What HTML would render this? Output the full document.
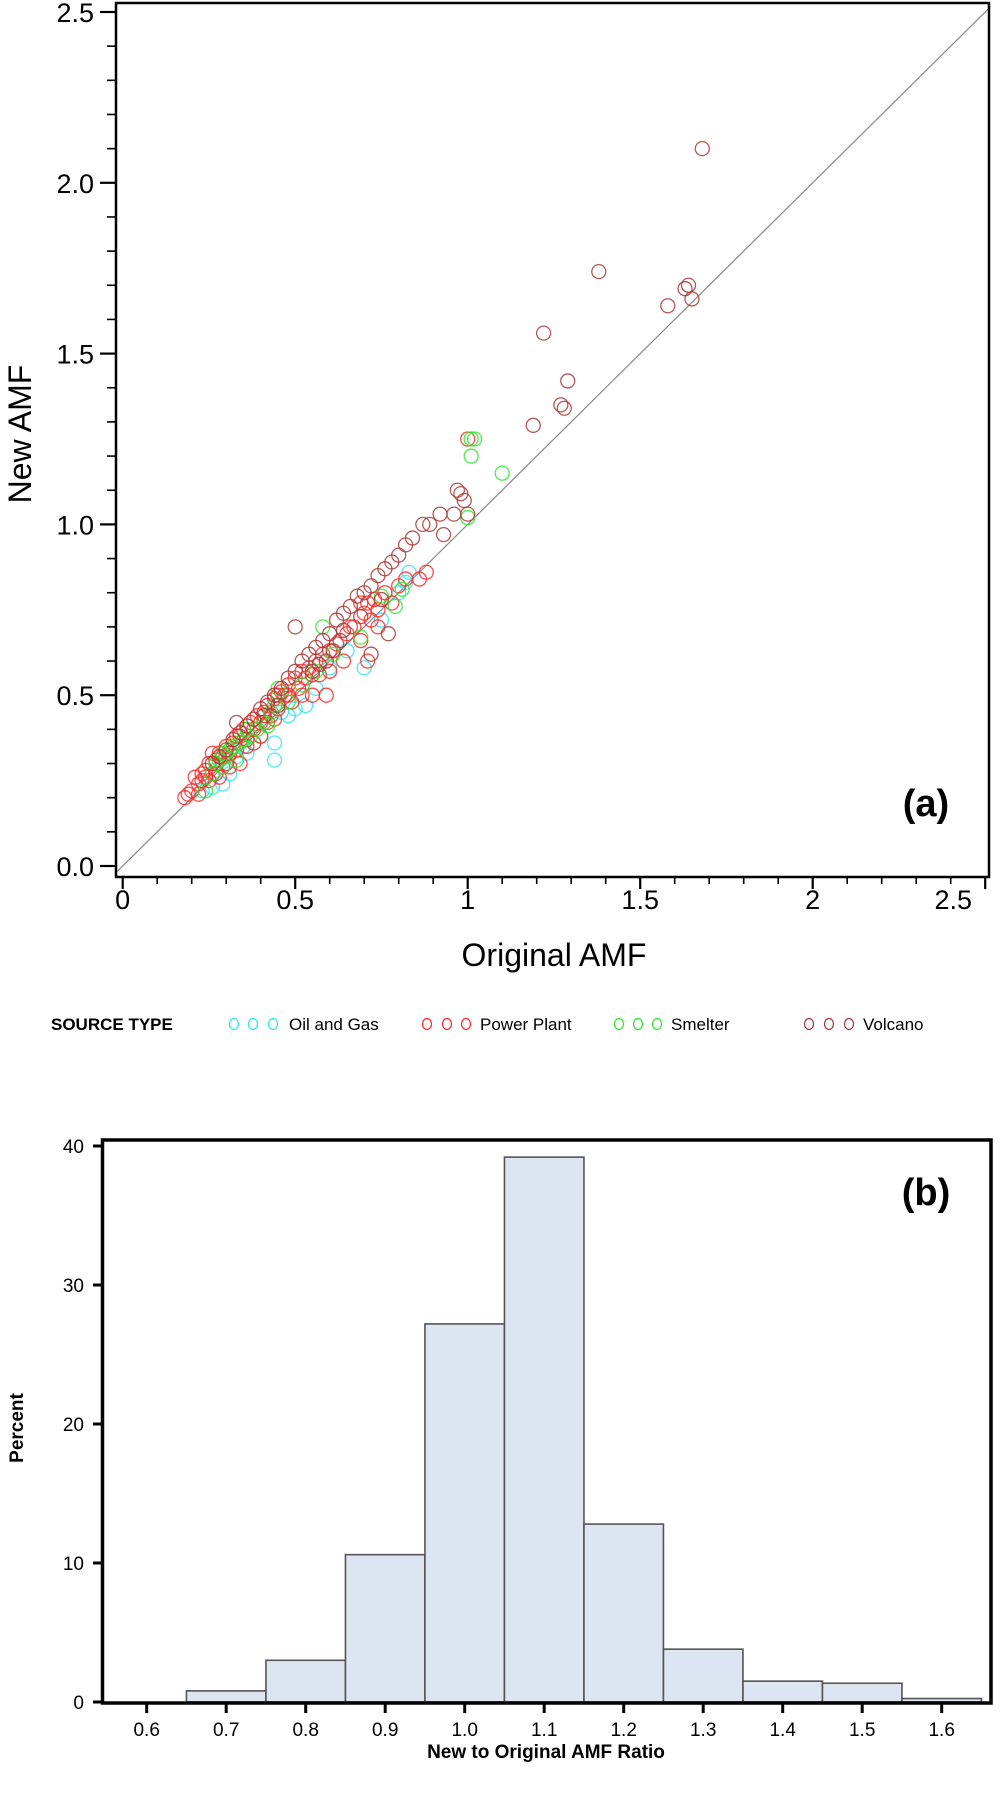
<!DOCTYPE html>
<html><head><meta charset="utf-8"><style>
html,body{margin:0;padding:0;background:#fff;}
svg{display:block;font-family:"Liberation Sans",Arial,sans-serif;}
</style></head><body>
<svg id="svg" width="1004" height="1819" viewBox="0 0 1004 1819">
<defs><clipPath id="clipA"><rect x="116" y="3" width="873" height="874"/></clipPath></defs>
<g id="topPanel"></g>
<g id="legend"></g>
<g id="bot"></g>
</svg>
<script>
// ---- Scatter data (Original AMF, New AMF) ----
const volcanoX=[1.68,1.38,1.58,1.63,1.64,1.65,1.22,1.29,1.27,1.28,1.19,0.97,0.98,0.99,1.00,0.96,0.92,0.93,0.89,0.87,0.84,0.82,0.80,0.78,0.76,0.74,0.72,0.70,0.68,0.66,0.64,0.62,0.60,0.58,0.56,0.54,0.52,0.50,0.48,0.46,0.44,0.42,0.40,0.38,0.36,0.34,0.32,0.30,0.28,0.26,0.50,0.77,0.72,0.59,0.63,0.69,0.75,0.57,0.45,0.41,0.33,0.55,0.64,0.61];
const volcanoY=[2.10,1.74,1.64,1.69,1.70,1.66,1.56,1.42,1.35,1.34,1.29,1.10,1.09,1.07,1.03,1.03,1.03,0.97,1.00,1.00,0.96,0.94,0.91,0.89,0.87,0.85,0.82,0.80,0.79,0.76,0.74,0.72,0.68,0.66,0.64,0.62,0.60,0.57,0.55,0.52,0.50,0.48,0.46,0.43,0.41,0.39,0.37,0.34,0.32,0.30,0.70,0.68,0.62,0.60,0.66,0.73,0.78,0.59,0.47,0.44,0.42,0.57,0.69,0.63];
const powerX=[0.18,0.19,0.20,0.21,0.22,0.23,0.24,0.25,0.26,0.27,0.28,0.29,0.30,0.31,0.32,0.33,0.34,0.35,0.36,0.37,0.38,0.39,0.40,0.41,0.42,0.43,0.44,0.45,0.46,0.47,0.48,0.49,0.50,0.51,0.52,0.53,0.54,0.55,0.56,0.57,0.58,0.59,0.60,0.62,0.64,0.65,0.67,0.69,0.70,0.71,0.72,0.73,0.74,0.76,0.78,0.80,0.82,0.86,0.88,0.71,0.55,0.48,0.36,0.30,0.27,0.25,0.24,0.29,0.31,0.33,0.38,0.42,0.45,0.52,0.60,0.66,0.69,0.74,0.34,0.28,0.26,0.40,0.44,0.22,0.23,1.00];
const powerY=[0.20,0.21,0.22,0.26,0.24,0.27,0.28,0.30,0.27,0.31,0.33,0.29,0.35,0.33,0.36,0.34,0.38,0.40,0.37,0.42,0.40,0.44,0.42,0.45,0.47,0.44,0.49,0.46,0.51,0.50,0.53,0.48,0.55,0.52,0.57,0.55,0.58,0.56,0.60,0.56,0.62,0.50,0.63,0.65,0.60,0.68,0.70,0.66,0.74,0.77,0.72,0.78,0.75,0.80,0.77,0.82,0.84,0.84,0.86,0.60,0.50,0.50,0.35,0.30,0.27,0.25,0.26,0.32,0.29,0.38,0.36,0.42,0.50,0.50,0.57,0.70,0.77,0.70,0.30,0.26,0.33,0.38,0.43,0.21,0.25,1.25];
const smelterX=[0.24,0.26,0.27,0.28,0.29,0.30,0.31,0.32,0.33,0.34,0.35,0.37,0.39,0.41,0.42,0.44,0.45,0.48,0.52,0.56,0.58,0.61,0.69,0.75,0.79,0.81,1.00,1.01,1.02,1.01,1.10,0.29,0.36,0.43];
const smelterY=[0.22,0.27,0.30,0.31,0.33,0.32,0.34,0.35,0.31,0.36,0.37,0.38,0.40,0.42,0.41,0.47,0.52,0.48,0.53,0.57,0.70,0.62,0.67,0.79,0.76,0.81,1.02,1.25,1.25,1.20,1.15,0.29,0.40,0.45];
const oilX=[0.23,0.26,0.29,0.27,0.30,0.33,0.35,0.38,0.40,0.44,0.44,0.46,0.48,0.50,0.53,0.56,0.60,0.65,0.70,0.75,0.80,0.83,0.82,0.31,0.36];
const oilY=[0.22,0.23,0.24,0.28,0.30,0.32,0.35,0.36,0.38,0.31,0.36,0.45,0.44,0.46,0.47,0.52,0.58,0.63,0.58,0.72,0.80,0.86,0.83,0.27,0.33];
const scatterTicks=[0,0.5,1,1.5,2,2.5];
const xTickLabels=["0","0.5","1","1.5","2","2.5"];
const yTickLabels=["0.0","0.5","1.0","1.5","2.0","2.5"];
// ---- Histogram data ----
const binCenters=[0.7,0.8,0.9,1.0,1.1,1.2,1.3,1.4,1.5,1.6];
const binPercents=[0.8,3.0,10.6,27.2,39.2,12.8,3.8,1.5,1.35,0.25];
const histXTicks=[0.6,0.7,0.8,0.9,1.0,1.1,1.2,1.3,1.4,1.5,1.6];
const histYTicks=[0,10,20,30,40];

const NS="http://www.w3.org/2000/svg";
function mk(parent,tag,attrs,text){const e=document.createElementNS(NS,tag);for(const k in attrs)e.setAttribute(k,attrs[k]);if(text!==undefined)e.textContent=text;parent.appendChild(e);return e;}

// ===== Panel (a) =====
const topG=document.getElementById('topPanel');
const L=116,T=3,R=989,B=877;
const sx=v=>122.7+345*v;
const sy=v=>866-341.6*v;
const diag=mk(topG,'line',{x1:sx(-0.05),y1:sy(-0.05),x2:sx(2.6),y2:sy(2.6),stroke:'#8a8a8a','stroke-width':1.2,'clip-path':'url(#clipA)'});


const series=[[oilX,oilY,'#2ee6f2','oil-and-gas-point'],[powerX,powerY,'#ff2a2a','power-plant-point'],[smelterX,smelterY,'#2ee82e','smelter-point'],[volcanoX,volcanoY,'#a83a3a','volcano-point']];
const pts=mk(topG,'g',{'clip-path':'url(#clipA)'});


for(const [xs,ys,col,nm] of series){
  for(let i=0;i<xs.length;i++){
    const c=mk(pts,'circle',{cx:sx(xs[i]),cy:sy(ys[i]),r:7,fill:'none',stroke:col,'stroke-width':1.3,'stroke-opacity':0.85});
    
    
  }
}
const frameA=mk(topG,'rect',{x:L,y:T,width:R-L,height:B-T,fill:'none',stroke:'#000','stroke-width':2.5});


for(let k=0;k<=25;k++){
  const v=k/10, major=k%5===0;
  const yt=mk(topG,'line',{x1:major?100:107,x2:L,y1:sy(v),y2:sy(v),stroke:'#000','stroke-width':major?2.2:1.6});
  
  
  const xt=mk(topG,'line',{x1:sx(v),x2:sx(v),y1:B,y2:major?889:884,stroke:'#000','stroke-width':major?2.2:1.6});
  
  
}
scatterTicks.forEach((v,i)=>{
  const yl=mk(topG,'text',{x:94,y:sy(v)+10,'text-anchor':'end','font-size':27},yTickLabels[i]);
  
  
  const last=i===scatterTicks.length-1;
  const xl=mk(topG,'text',{x:last?972:sx(v),y:909,'text-anchor':last?'end':'middle','font-size':27},xTickLabels[i]);
  
  
});
const yTitle=mk(topG,'text',{x:0,y:0,transform:'translate(31,434) rotate(-90)','text-anchor':'middle','font-size':32},'New AMF');


const xTitle=mk(topG,'text',{x:554,y:966,'text-anchor':'middle','font-size':32},'Original AMF');


const pa=mk(topG,'text',{x:926,y:816,'text-anchor':'middle','font-size':38,'font-weight':'bold'},'(a)');



// ===== Legend =====
const lg=document.getElementById('legend');
const ly=1024;
const lt=mk(lg,'text',{x:51,y:ly+6,'font-size':17,'font-weight':'bold'},'SOURCE TYPE');


const legItems=[['Oil and Gas','#2ee6f2',[234,253,273],289],['Power Plant','#ff2a2a',[427,447,466],480],['Smelter','#2ee82e',[619,638,657],671],['Volcano','#a83a3a',[809,829,849],863]];
for(const [name,col,cxs,tx] of legItems){
  const g=mk(lg,'g',{});
  
  
  cxs.forEach(cx=>mk(g,'ellipse',{cx:cx,cy:ly,rx:4.5,ry:5.5,fill:'none',stroke:col,'stroke-width':1.3}));
  mk(g,'text',{x:tx,y:ly+6,'font-size':17},name);
}

// ===== Panel (b) =====
const bot=document.getElementById('bot');
const L2=102.5,T2=1140,R2=991,B2=1703;
const hx=v=>146.7+(v-0.6)*795;
const hy=p=>1702-13.9*p;
binCenters.forEach((c,i)=>{
  const r=mk(bot,'rect',{x:hx(c-0.05),y:hy(binPercents[i]),width:hx(c+0.05)-hx(c-0.05),height:hy(0)-hy(binPercents[i]),fill:'#dce5f1',stroke:'#555','stroke-width':1.6});
  
  
});
const frameB=mk(bot,'path',{d:`M${L2},${T2} H${R2} V${B2} H${L2} Z`,fill:'none',stroke:'#000','stroke-width':3.5});


histYTicks.forEach(p=>{
  const t=mk(bot,'line',{x1:93,x2:L2,y1:hy(p),y2:hy(p),stroke:'#000','stroke-width':3});
  
  
  const l=mk(bot,'text',{x:84,y:hy(p)+7,'text-anchor':'end','font-size':19},String(p));
  
  
});
histXTicks.forEach(v=>{
  const t=mk(bot,'line',{x1:hx(v),x2:hx(v),y1:B2,y2:1713,stroke:'#000','stroke-width':3});
  
  
  const l=mk(bot,'text',{x:hx(v),y:1736,'text-anchor':'middle','font-size':19},v.toFixed(1));
  
  
});
const yT2=mk(bot,'text',{x:0,y:0,transform:'translate(23,1428) rotate(-90)','text-anchor':'middle','font-size':19,'font-weight':'bold'},'Percent');


const xT2=mk(bot,'text',{x:546,y:1758,'text-anchor':'middle','font-size':19,'font-weight':'bold'},'New to Original AMF Ratio');


const pb=mk(bot,'text',{x:926,y:1205,'text-anchor':'middle','font-size':38,'font-weight':'bold'},'(b)');


</script>
</body></html>
